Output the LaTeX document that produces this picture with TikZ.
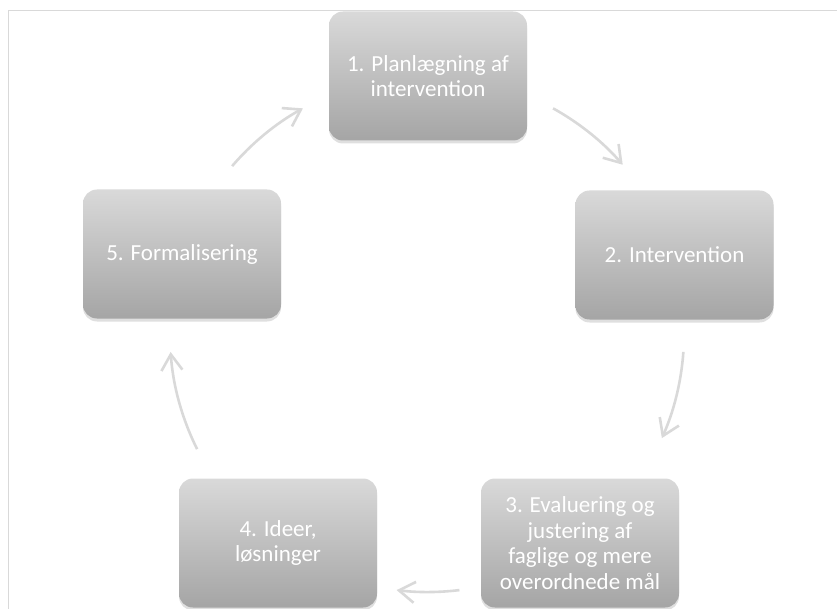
\documentclass[tikz,border=0pt]{standalone}
\usepackage{fontspec}
\setmainfont{Carlito}
\usetikzlibrary{calc,shadows,arrows.meta}
\definecolor{boxtop}{RGB}{217,217,217}
\definecolor{boxbot}{RGB}{165,165,165}
\definecolor{arcgray}{RGB}{217,217,217}
\definecolor{framegray}{RGB}{217,217,217}
\tikzset{
  stepbox/.style={rounded corners=14pt, minimum width=198pt, minimum height=129pt,
    top color=boxtop, bottom color=boxbot, text=white, align=center,
    font=\fontsize{23}{25.5}\selectfont,
    drop shadow={shadow xshift=0pt, shadow yshift=-3pt, opacity=0.25}},
  cyc/.style={draw=arcgray, line width=2.6pt, -{Straight Barb[length=16pt,width=21pt]}}
}
\begin{document}
\begin{tikzpicture}[x=1pt,y=-1pt]
        \useasboundingbox (0,0) rectangle (837,609);
        \draw[framegray, line width=1pt] (8,609) -- (8,11) -- (837,11);

        \node[stepbox] (1) at (428,76){1. Planlægning af\\intervention};
        \node[stepbox] (2) at (674.5,255){2. Intervention};
        \node[stepbox] (3) at (580,543){3. Evaluering og\\justering af\\faglige og mere\\overordnede mål};
        \node[stepbox] (4) at (278,543){4. Ideer,\\løsninger};
        \node[stepbox] (5) at (182,254){5. Formalisering};

        \coordinate (c) at (428,334);
        \coordinate (a1) at ($(c)+(-61:258)$);
        \coordinate (a2) at ($(c)+(4:256)$);
        \coordinate (a3) at ($(c)+(83:258)$);
        \coordinate (a4) at ($(c)+(153.5:258)$);
        \coordinate (a5) at ($(c)+(220.6:258)$);

        \path [cyc] (a1) arc[start angle=-61, end angle=-41, radius=258];
        \path [cyc] (a2) arc[start angle=4, end angle=24, radius=256];
        \path [cyc] (a3) arc[start angle=83, end angle=97, radius=258];
        \path [cyc] (a4) arc[start angle=153.5, end angle=176, radius=258];
        \path [cyc] (a5) arc[start angle=220.6, end angle=241, radius=258];
    \end{tikzpicture}
\end{document}
